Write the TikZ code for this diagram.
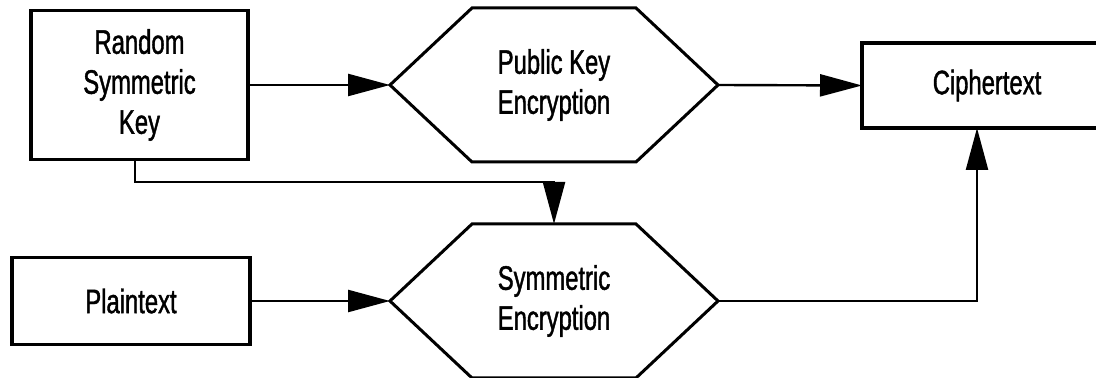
\documentclass[tikz,border=0pt]{standalone}
\usepackage{fontspec}
\setmainfont[FakeStretch=0.7, FakeBold=1.2]{Liberation Sans}
\usetikzlibrary{arrows.meta,shapes.symbols}

\tikzset{
  box/.style={draw, line width=1.6pt, align=center, inner sep=0pt, outer sep=0pt},
  hexbox/.style={draw, line width=1.5pt, align=center, shape=signal, signal to=west and east,
    signal pointer angle=86.4, inner sep=0pt, outer sep=0pt, minimum width=164pt, minimum height=77pt},
  flow/.style={line width=1.2pt, -{Triangle[length=21pt,width=11pt]}}
}

\begin{document}
\begin{tikzpicture}[x=0.5pt, y=-0.5pt, font=\fontsize{17}{20}\selectfont]
                    \path[use as bounding box, clip] (0,0) rectangle (1096,378);
                    \node[box, minimum width=108.5pt, minimum height=74.5pt] (key) at (139.5,85) {Random\\Symmetric\\Key};
                    \node[box, minimum width=119pt, minimum height=43.5pt] (plain) at (131,301) {Plaintext};
                    \node[hexbox] (pubenc) at (554,85) {Public Key\\Encryption};
                    \node[hexbox] (symenc) at (554,301) {Symmetric\\Encryption};
                    \node[box, minimum width=125pt, minimum height=42.5pt] (cipher) at (987,85.5) {Ciphertext};
                    \coordinate (bend) at (135,182);
                    \draw[flow] (key.east) -- (pubenc.west);
                    \draw[flow] (pubenc.east) -- (cipher.west);
                    \draw[flow] (plain.east) -- (symenc.west);
                    \draw[flow] (key.south -| bend) -- (bend) -| (symenc.north);
                    \draw[flow] (symenc.east) -| ([xshift=-5pt]cipher.south);
                  \end{tikzpicture}
\end{document}
